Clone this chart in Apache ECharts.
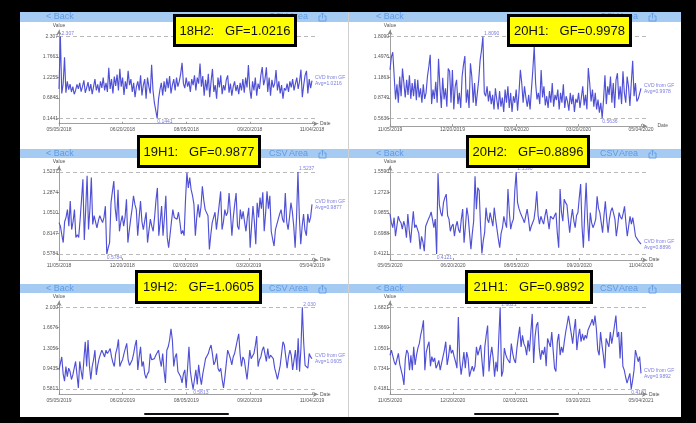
<!DOCTYPE html>
<html><head><meta charset="utf-8">
<script src="https://cdn.jsdelivr.net/npm/echarts@6/dist/echarts.min.js"></script>
<style>html,body{margin:0;padding:0;background:#000}#c{width:696px;height:423px}</style>
</head><body><div id="c"></div>
<script>
// ---------- DATA ----------
const titles = ['18H2:   GF=1.0216','20H1:   GF=0.9978','19H1:   GF=0.9877','20H2:   GF=0.8896','19H2:   GF=1.0605','21H1:   GF=0.9892'];
const avgs = ['Avg=1.0216','Avg=0.9978','Avg=0.9877','Avg=0.8896','Avg=1.0605','Avg=0.9892'];

const dates1 = ['05/05/2018','06/20/2018','08/05/2018','09/20/2018','11/04/2018'];
const dates2 = ['11/05/2019','12/20/2019','02/04/2020','03/20/2020','05/04/2020'];
const dates3 = ['11/05/2018','12/20/2018','02/03/2019','03/20/2019','05/04/2019'];
const dates4 = ['05/05/2020','06/20/2020','08/05/2020','09/20/2020','11/04/2020'];
const dates5 = ['05/05/2019','06/20/2019','08/05/2019','09/20/2019','11/04/2019'];
const dates6 = ['11/05/2020','12/20/2020','02/03/2021','03/20/2021','05/04/2021'];

const dayTicks1 = [0,46,92,138,183];
const dayTicks2 = [0,45,91,136,181];
const dayTicks3 = [0,45,90,135,180];
const dayTicks4 = [0,46,92,138,183];
const dayTicks5 = [0,46,92,138,183];
const dayTicks6 = [0,45,90,135,180];

const yTicks1 = ['0.1441','0.6848','1.2255','1.7663','2.307'];
const yTicks2 = ['0.5636','0.8749','1.1863','1.4976','1.8090'];
const yTicks3 = ['0.5784','0.8147','1.0510','1.2874','1.5237'];
const yTicks4 = ['0.4121','0.6988','0.9855','1.2723','1.5590'];
const yTicks5 = ['0.5813','0.9435','1.3056','1.6676','2.030'];
const yTicks6 = ['0.4181','0.7341','1.0501','1.3660','1.6821'];

const values1 = [
0.92,2.307,0.80,1.05,1.76,0.82,1.12,0.90,1.05,0.84,
0.98,0.78,0.88,1.04,0.92,1.08,0.85,0.98,1.15,0.82,
0.95,1.10,0.86,1.05,0.78,0.98,1.18,0.88,1.04,0.82,
1.12,0.95,1.22,0.88,1.08,0.84,1.48,0.92,1.18,0.80,
1.25,1.00,1.30,0.88,1.45,0.98,1.22,0.76,1.12,0.92,
1.40,1.02,1.18,0.84,1.08,0.70,0.98,1.12,0.88,1.28,
0.75,1.02,1.18,0.66,1.22,0.98,0.80,1.56,0.88,0.55,
0.35,0.1441,0.65,0.90,1.08,0.75,1.12,0.85,1.20,0.94,
1.26,0.80,1.02,1.18,0.88,1.22,0.98,1.12,1.32,1.61,
1.06,0.94,1.22,0.98,1.12,0.84,1.18,1.02,1.28,0.88,
1.22,1.06,1.59,0.98,1.26,0.74,1.16,0.88,1.32,0.70,
1.12,1.45,0.84,1.02,0.66,1.22,0.96,1.28,0.78,1.02,
0.88,1.16,1.28,0.82,1.06,0.74,0.98,1.12,0.86,1.02,
0.78,1.08,0.88,1.18,0.82,1.22,0.96,1.55,0.92,0.66,
1.12,0.88,1.22,0.74,1.06,0.92,1.28,1.50,1.02,1.18,
1.49,0.84,1.22,0.74,1.16,0.96,1.06,1.42,0.88,1.12,
0.80,1.02,0.66,0.94,0.88,1.06,0.84,1.12,0.96,1.18,
0.88,1.06,1.22,0.92,1.12,1.43,0.70,1.02,1.28,1.40,
0.80,1.18,0.94,1.14];

const values2 = [
1.30,1.50,1.57,1.55,0.85,1.08,0.80,1.20,0.90,1.32,
1.30,0.88,1.15,0.92,1.22,0.86,1.10,0.90,1.16,0.84,
1.15,0.88,1.02,0.80,1.08,0.86,0.95,1.20,1.35,1.53,
0.78,1.00,0.86,1.12,0.80,1.47,1.05,0.72,1.18,0.85,
1.02,0.74,1.32,1.28,0.80,1.30,0.70,1.05,1.15,0.78,
0.95,0.72,1.20,1.38,1.51,0.80,1.00,0.72,1.40,1.20,
0.80,1.10,0.75,0.95,1.15,1.45,1.60,1.809,0.95,0.90,
1.05,0.82,0.98,0.78,0.92,0.70,1.02,0.85,0.70,0.98,
0.74,0.88,0.66,1.00,0.80,1.05,0.72,0.95,0.66,0.90,
0.80,1.00,0.68,0.95,1.30,1.10,0.80,1.05,0.88,0.74,
0.92,0.70,1.00,1.30,1.66,1.10,0.85,0.95,0.78,1.30,
0.88,1.05,0.76,0.90,0.72,0.98,0.80,1.10,0.74,0.92,
0.84,1.00,0.70,0.95,0.80,1.08,0.72,0.90,0.82,0.68,
0.95,0.78,0.92,0.66,0.86,0.80,0.95,0.72,0.88,1.05,
0.76,0.92,0.70,1.33,1.10,0.82,1.00,0.74,0.95,0.70,
0.85,0.65,0.80,0.5636,0.85,1.22,0.78,1.05,0.92,1.20,
0.80,1.10,0.72,1.15,1.25,0.85,1.05,0.78,1.28,0.95,
0.80,1.20,1.05,0.75,1.10,1.44,0.90,1.10,0.82,0.86,
0.84,1.02];

const values3 = [
0.94,0.90,0.80,0.71,0.95,1.00,1.09,0.90,1.19,0.86,
0.95,1.09,0.77,0.80,0.77,0.97,1.20,1.44,0.74,1.10,
1.48,0.86,1.10,1.46,0.92,1.02,0.95,0.88,0.96,1.02,
0.98,0.94,1.00,1.13,0.5784,0.65,0.71,1.17,1.30,1.42,
1.10,0.96,1.32,0.84,0.95,1.02,0.90,1.00,1.21,0.71,
0.85,0.98,1.10,1.25,1.15,1.09,0.79,1.00,1.19,0.95,
0.86,0.96,1.06,0.71,0.85,0.98,0.90,0.84,1.00,1.20,
1.34,0.79,0.95,1.13,0.79,1.00,1.25,0.77,0.65,0.80,
0.95,1.09,1.00,1.02,0.98,1.06,0.95,0.81,0.85,0.79,
1.20,1.516,1.34,1.46,1.32,1.25,1.15,0.79,1.00,1.15,
1.00,1.12,1.36,1.20,1.09,1.10,1.02,0.63,0.80,0.94,
1.00,1.06,0.86,1.00,1.15,1.30,0.86,0.95,1.09,1.02,
1.06,1.28,1.05,0.79,1.00,1.15,1.28,0.90,0.86,1.09,
0.98,1.07,0.95,0.84,1.00,1.11,0.65,0.90,1.13,0.95,
0.69,1.17,1.00,1.23,1.10,1.29,0.84,1.05,1.30,1.10,
1.25,0.84,0.75,0.67,0.86,0.92,0.98,1.04,1.09,0.98,
0.94,1.28,0.95,0.86,1.00,1.17,1.07,0.90,0.65,1.00,
1.5237,1.00,0.69,0.90,1.04,0.85,0.79,1.04,0.94,1.00,
1.15];

const values4 = [
0.97,0.85,0.78,0.92,0.66,0.80,0.94,0.88,0.85,0.76,
0.87,0.80,0.64,0.97,0.75,0.57,0.80,1.01,0.78,0.82,
0.80,0.70,0.48,0.66,0.58,0.45,0.80,0.85,0.90,0.94,
1.00,1.01,0.78,0.90,0.4121,1.54,1.10,0.99,0.94,1.13,
1.20,1.25,0.95,0.90,0.73,0.80,0.83,0.66,0.80,0.87,
0.75,0.71,0.90,1.04,0.57,0.80,1.06,0.94,0.70,0.48,
0.70,0.87,1.50,1.04,1.34,1.30,0.80,0.42,0.60,0.71,
1.06,0.90,0.85,0.99,0.90,0.80,1.06,0.90,0.76,0.62,
0.50,0.70,0.78,0.94,0.85,0.78,1.32,1.00,0.76,0.85,
0.90,1.30,1.559,1.13,1.05,0.99,1.01,0.90,0.85,0.95,
1.04,0.90,0.73,0.80,0.85,0.90,1.05,1.29,0.95,0.83,
0.94,0.88,0.83,0.95,1.04,0.90,0.76,0.94,0.92,0.90,
0.95,0.99,0.70,0.50,1.32,1.00,0.87,1.18,1.13,1.10,
0.90,0.71,0.90,1.04,0.88,0.78,0.95,0.99,1.20,1.39,
0.80,0.50,1.00,1.41,0.90,0.59,0.99,0.85,0.78,0.83,
0.90,1.22,1.05,0.99,0.85,0.71,0.95,1.15,0.90,0.71,
0.90,1.01,1.06,0.98,0.90,0.66,0.80,0.99,0.93,0.90,
0.98,1.08,0.85,0.66,0.80,0.94,0.83,0.92,0.80,0.66,
0.64,0.60,0.59,0.55];

const values5 = [
0.92,0.89,1.15,0.85,0.72,0.98,0.80,0.95,0.89,0.75,
0.83,0.83,1.07,1.04,0.60,1.07,0.90,0.75,1.10,1.42,
0.98,1.45,1.00,0.75,0.98,1.10,1.27,0.83,1.00,1.12,
1.20,1.27,1.21,1.15,1.27,1.21,1.25,1.30,1.15,1.05,
0.98,1.21,1.30,1.46,0.98,1.05,1.10,1.21,1.30,1.39,
1.10,1.00,0.98,1.10,1.21,1.35,1.45,0.92,1.15,1.33,
0.98,1.07,0.85,0.77,0.85,0.89,1.21,1.10,1.07,1.12,
1.18,1.21,1.27,1.10,0.98,1.21,0.90,0.69,1.27,1.33,
1.45,1.65,1.45,0.98,1.15,1.21,0.89,0.92,0.80,0.69,
0.85,0.92,0.60,0.95,1.33,0.90,0.72,0.5813,0.75,0.92,
0.66,1.01,0.80,0.66,0.85,0.98,1.12,1.15,1.21,1.30,
1.36,1.20,1.01,1.07,1.21,0.95,0.89,0.95,0.75,0.60,
0.80,0.83,1.27,1.20,1.12,1.01,1.15,1.21,1.33,1.45,
1.56,1.20,0.98,1.15,1.10,1.07,0.75,1.00,1.27,1.12,
1.15,1.21,1.35,1.52,0.98,1.10,1.15,1.27,1.33,1.20,
1.07,1.30,1.12,1.18,1.21,1.12,0.95,0.86,0.75,0.72,
1.00,1.21,1.42,1.36,1.33,0.95,1.15,1.27,1.18,0.92,
0.89,1.27,0.92,1.48,0.89,1.30,2.030,1.40,1.00,0.97,
0.95,1.21,1.15,1.12];

const values6 = [
0.94,1.02,1.05,0.84,0.79,0.82,0.97,0.80,0.82,0.62,0.48,
0.89,1.02,0.97,0.71,0.94,0.71,1.07,0.79,0.94,1.05,1.12,1.25,1.35,1.48,
0.71,0.99,1.08,1.15,0.77,0.92,0.84,0.90,0.74,0.79,0.86,0.71,0.82,0.92,1.02,1.15,0.79,0.92,1.10,0.97,1.02,0.92,0.84,0.74,1.53,
0.87,0.64,0.80,0.99,0.74,0.99,0.89,0.61,0.70,0.77,0.69,0.77,1.07,0.94,1.02,1.10,0.85,0.61,1.07,1.25,1.40,
0.69,0.92,1.07,0.89,0.61,0.84,0.69,1.20,1.682,
0.61,0.69,1.05,0.95,0.89,0.89,0.82,1.12,0.97,0.87,0.82,1.05,1.22,1.38,1.07,1.25,1.12,1.07,0.94,1.17,1.00,1.30,1.58,
0.82,1.22,1.40,1.45,1.05,0.87,1.02,0.95,1.07,0.77,1.20,1.17,1.07,1.30,1.02,0.74,0.69,1.15,1.27,0.94,1.07,0.98,1.15,1.30,1.42,1.55,
1.53,1.27,1.12,1.33,1.50,1.02,1.22,1.35,1.15,1.27,1.17,1.25,1.20,1.33,1.38,1.43,1.50,1.40,1.555,
1.35,1.02,0.94,1.30,1.10,0.94,0.74,1.20,1.17,1.07,1.30,1.12,1.25,1.40,1.555,
1.22,1.30,0.89,1.30,0.77,0.71,0.60,0.51,0.535,0.66,0.4181,0.55,0.71,1.02,1.04,0.84,0.92,0.66];

// ---------- LAYOUT ----------
const panels = [
  {values: values1, ticks: yTicks1, dates: dates1, days: dayTicks1},
  {values: values2, ticks: yTicks2, dates: dates2, days: dayTicks2},
  {values: values3, ticks: yTicks3, dates: dates3, days: dayTicks3},
  {values: values4, ticks: yTicks4, dates: dates4, days: dayTicks4},
  {values: values5, ticks: yTicks5, dates: dates5, days: dayTicks5},
  {values: values6, ticks: yTicks6, dates: dates6, days: dayTicks6}
];
const cols = [
  {left: 59, dataEnd: 312, axisEnd: 318, px: 20, pw: 328, back: 46, csv: 269, area: 289, icon: 319},
  {left: 390, dataEnd: 641, axisEnd: 647, px: 349, pw: 332, back: 376, csv: 600, area: 619, icon: 649}
];
const rows = [
  {top: 12, h: 137, bar: 10, axisTop: 30, maxY: 36.5, minY: 118.3, axisY: 126, lab: 1.5},
  {top: 149, h: 135, bar: 9, axisTop: 166, maxY: 172, minY: 254, axisY: 260, lab: 3.5},
  {top: 284, h: 133, bar: 9, axisTop: 301, maxY: 307.3, minY: 389, axisY: 394.3, lab: 4}
];
const boxes = [[173,14,297,47],[507,14,632,47],[137,135,261,168],[466,135,590,168],[135,270,262,304],[465,270,593,304]];

const FONT = 'Liberation Sans, Arial, sans-serif';
const LINE = '#5050d6';
const LABEL = '#7d7de2';
const BARBLUE = '#a6cbf3';
const TXTBLUE = '#5e9be6';

const grids = [], xAxes = [], yAxes = [], series = [], graphics = [];

panels.forEach((p, i) => {
  const c = cols[i % 2], r = rows[Math.floor(i / 2)];
  const tv = p.ticks.map(Number);
  const ppu = (r.minY - r.maxY) / (tv[4] - tv[0]);
  const yMax = tv[4] + (r.maxY - r.axisTop) / ppu;
  const yMin = tv[0] - (r.axisY - r.minY) / ppu;
  const lastDay = p.days[4];
  const xMax = lastDay * (c.axisEnd - c.left) / (c.dataEnd - c.left);

  grids.push({left: c.left, top: r.axisTop, width: c.axisEnd - c.left, height: r.axisY - r.axisTop, containLabel: false});
  xAxes.push({
    type: 'value', gridIndex: i, min: 0, max: xMax,
    name: 'Date', nameLocation: 'end', nameGap: 2,
    nameTextStyle: {fontSize: 5, color: '#555', fontFamily: FONT, padding: [0, 0, 3, 0]},
    axisLine: {show: true, symbol: ['none', 'arrow'], symbolSize: [4, 5], lineStyle: {color: '#888', width: 0.8}},
    axisTick: {show: true, inside: true, length: 2, customValues: p.days, lineStyle: {color: '#888', width: 0.8}},
    axisLabel: {show: true, customValues: p.days, margin: r.lab, fontSize: 5, color: '#555', fontFamily: FONT,
      formatter: (v) => { const k = p.days.indexOf(Math.round(v)); return k >= 0 ? p.dates[k] : ''; }},
    splitLine: {show: false}
  });
  yAxes.push({
    type: 'value', gridIndex: i, min: yMin, max: yMax,
    name: 'Value', nameLocation: 'end', nameGap: 2,
    nameTextStyle: {fontSize: 5, color: '#555', fontFamily: FONT},
    axisLine: {show: true, symbol: ['none', 'arrow'], symbolSize: [4, 5], lineStyle: {color: '#888', width: 0.8}},
    axisTick: {show: true, length: 2.5, customValues: tv, lineStyle: {color: '#888', width: 0.8}},
    axisLabel: {show: true, customValues: tv, margin: 1, fontSize: 5, color: '#555', fontFamily: FONT,
      formatter: (v) => { const k = tv.findIndex(t => Math.abs(t - v) < 1e-6); return k >= 0 ? p.ticks[k] : ''; }},
    splitLine: {show: false}
  });
  series.push({
    type: 'line', xAxisIndex: i, yAxisIndex: i, z: 5,
    data: p.values.map((v, d) => [d, v]),
    symbol: 'none', smooth: false,
    lineStyle: {color: LINE, width: 1.15},
    endLabel: {show: true, formatter: 'CVD from GF\n' + avgs[i], fontSize: 5, lineHeight: 6, color: LABEL, fontFamily: FONT, distance: 3},
    markLine: {
      silent: true, symbol: ['none', 'none'], label: {show: false},
      lineStyle: {color: '#a8a8a8', type: [4, 3], width: 0.8},
      data: [{yAxis: tv[4]}, {yAxis: tv[0]}]
    },
    markPoint: {
      silent: true, symbol: 'circle', symbolSize: 0.1,
      label: {show: true, fontSize: 5, color: LABEL, fontFamily: FONT},
      data: [
        {type: 'max', valueDim: 'y', label: {position: 'right', distance: 1, offset: [0, -3], formatter: p.ticks[4]}},
        {type: 'min', valueDim: 'y', label: {position: 'right', distance: 0, offset: [0, 3.5], formatter: p.ticks[0]}}
      ]
    }
  });

  // panel chrome
  graphics.push({type: 'rect', z: -20, shape: {x: c.px, y: r.top, width: c.pw, height: r.h}, style: {fill: '#fff'}});
  graphics.push({type: 'rect', z: -19, shape: {x: c.px, y: r.top, width: c.pw, height: r.bar}, style: {fill: BARBLUE}});
  const cy = r.top + r.bar / 2;
  graphics.push({type: 'text', z: -18, x: c.back, y: cy, style: {text: '< Back', fill: TXTBLUE, font: '9px ' + FONT, textVerticalAlign: 'middle'}});
  graphics.push({type: 'text', z: -18, x: c.csv, y: cy, style: {text: 'CSV', fill: TXTBLUE, font: '9px ' + FONT, textVerticalAlign: 'middle'}});
  graphics.push({type: 'text', z: -18, x: c.area, y: cy, style: {text: 'Area', fill: TXTBLUE, font: '9px ' + FONT, textVerticalAlign: 'middle'}});
  const ix = c.icon, iy = r.top + 1;
  graphics.push({type: 'polyline', z: -18, shape: {points: [[ix + 2, iy + 3], [ix, iy + 3], [ix, iy + 8], [ix + 7, iy + 8], [ix + 7, iy + 3], [ix + 5, iy + 3]]}, style: {stroke: TXTBLUE, lineWidth: 0.9, fill: null}});
  graphics.push({type: 'line', z: -18, shape: {x1: ix + 3.5, y1: iy + 5.5, x2: ix + 3.5, y2: iy}, style: {stroke: TXTBLUE, lineWidth: 0.9}});
  graphics.push({type: 'polyline', z: -18, shape: {points: [[ix + 2, iy + 1.5], [ix + 3.5, iy], [ix + 5, iy + 1.5]]}, style: {stroke: TXTBLUE, lineWidth: 0.9, fill: null}});

  // yellow title box
  const b = boxes[i];
  graphics.push({type: 'rect', z: 100, shape: {x: b[0] + 1.5, y: b[1] + 1.5, width: b[2] - b[0] - 3, height: b[3] - b[1] - 3}, style: {fill: '#ffff00', stroke: '#000', lineWidth: 3}});
  graphics.push({type: 'text', z: 101, x: (b[0] + b[2]) / 2, y: (b[1] + b[3]) / 2 + 0.5, style: {text: titles[i], fill: '#111', font: '13px ' + FONT, textAlign: 'center', textVerticalAlign: 'middle'}});
});
// home indicators
graphics.push({type: 'rect', z: 50, shape: {x: 144, y: 413, width: 85, height: 2, r: 1}, style: {fill: '#111'}});
graphics.push({type: 'rect', z: 50, shape: {x: 474, y: 413, width: 85, height: 2, r: 1}, style: {fill: '#111'}});
// divider between columns
graphics.push({type: 'rect', z: -17, shape: {x: 348, y: 12, width: 1, height: 405}, style: {fill: '#cfcfcf'}});

const chart = echarts.init(document.getElementById('c'), null, {renderer: 'canvas'});
chart.setOption({
  backgroundColor: '#000',
  animation: false,
  textStyle: {fontFamily: FONT},
  grid: grids, xAxis: xAxes, yAxis: yAxes, series: series,
  graphic: {elements: graphics}
});
</script></body></html>
